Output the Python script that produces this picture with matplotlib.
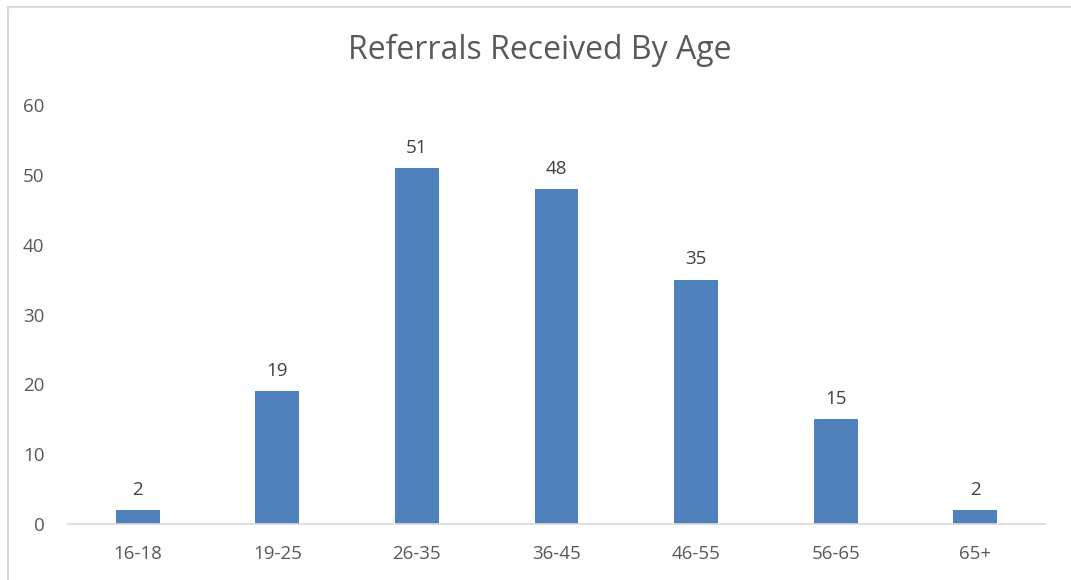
import matplotlib
matplotlib.use("Agg")
from matplotlib import pyplot as plt
from matplotlib.patches import Rectangle

ages = ["16-18", "19-25", "26-35", "36-45", "46-55", "56-65", "65+"]
referrals = [2, 19, 51, 48, 35, 15, 2]
yticks = [0, 10, 20, 30, 40, 50, 60]

bar_color = "#4F81BD"
text_color = "#595959"

plt.rcParams["font.family"] = ["Open Sans", "DejaVu Sans"]

fig = plt.figure(figsize=(10.71, 5.8), dpi=100)
ax = fig.add_axes([68/1071, 1 - 524/580, (1045 - 68)/1071, (524 - 105)/580])

x = list(range(len(ages)))
bars = ax.bar(x, referrals, width=0.315, color=bar_color, zorder=2)
for xi, v in zip(x, referrals):
    ax.annotate(str(v), (xi, v), xytext=(0, 8), textcoords="offset points",
                ha="center", va="bottom", fontsize=13.5, color="#404040")

ax.set_xlim(-0.5, len(ages) - 0.5)
ax.set_ylim(0, 60)
ax.set_yticks(yticks)
ax.set_xticks(x)
ax.set_xticklabels(ages)
ax.tick_params(axis="both", length=0, labelsize=13.5, colors=text_color)
ax.tick_params(axis="x", pad=15)
ax.tick_params(axis="y", pad=17)
for s in ["top", "right", "left"]:
    ax.spines[s].set_visible(False)
ax.spines["bottom"].set_color("#D9D9D9")
ax.spines["bottom"].set_linewidth(1.2)

fig.text(540/1071, 1 - 50/580, "Referrals Received By Age", ha="center", va="center",
         fontsize=23, color=text_color)

fig.patches.append(Rectangle((8/1071, -0.05), 1.1, 1.05 - 7/580, transform=fig.transFigure,
                             fill=False, edgecolor="#D9D9D9", linewidth=1.5))

plt.savefig("out.png", dpi=100)
